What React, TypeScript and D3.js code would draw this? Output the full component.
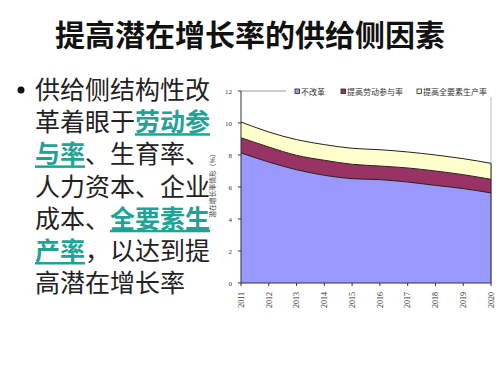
import React from "react";
import * as d3 from "d3";

const years = [2011, 2012, 2013, 2014, 2015, 2016, 2017, 2018, 2019, 2020];
const noReform = [8.13, 7.56, 7.08, 6.73, 6.52, 6.46, 6.31, 6.1, 5.9, 5.63];
const laborGain = [0.95, 0.94, 0.9, 0.94, 0.9, 0.85, 0.88, 0.9, 0.87, 0.85];
const tfpGain = [0.98, 0.94, 0.98, 0.98, 1.0, 1.02, 1.0, 1.0, 1.0, 1.0];
const seriesNames = ["不改革", "提高劳动参与率", "提高全要素生产率"];
const seriesColors = ["#9999FF", "#993366", "#FFFFCC"];
const yTicks = [0, 2, 4, 6, 8, 10, 12];

const title = "提高潜在增长率的供给侧因素";
const axisTitle = "潜在增长率情形（%）";
const bulletLines: { t: string; hl?: boolean }[][] = [
  [{ t: "供给侧结构性改" }],
  [{ t: "革着眼于" }, { t: "劳动参", hl: true }],
  [{ t: "与率", hl: true }, { t: "、生育率、" }],
  [{ t: "人力资本、企业" }],
  [{ t: "成本、" }, { t: "全要素生", hl: true }],
  [{ t: "产率", hl: true }, { t: "，以达到提" }],
  [{ t: "高潜在增长率" }],
];

export default function App() {
  const left = 241, right = 491, top = 91, bottom = 283;
  const x = d3.scaleLinear().domain([2011, 2020]).range([left, right]);
  const y = d3.scaleLinear().domain([0, 12]).range([bottom, top]);
  const table = years.map((yr, i) => ({ yr, a: noReform[i], b: laborGain[i], c: tfpGain[i] }));
  const stack = d3.stack<any>().keys(["a", "b", "c"])(table);
  const area = d3
    .area<any>()
    .x((d) => x(d.data.yr))
    .y0((d) => y(d[0]))
    .y1((d) => y(d[1]))
    .curve(d3.curveMonotoneX);
  const line = d3
    .line<any>()
    .x((d) => x(d.data.yr))
    .y((d) => y(d[1]))
    .curve(d3.curveMonotoneX);
  const cjk = "'Noto Sans CJK SC', sans-serif";
  const small = "'Liberation Serif', 'Noto Sans CJK SC', serif";
  const teal = "#1FA396";
  const legendX = [295, 341, 417];

  return (
    <svg width={500} height={375} style={{ position: "absolute", left: 0, top: 0, background: "#fff" }}>
      <rect width={500} height={375} fill="#fff" />
      <text x={250} y={46} textAnchor="middle" fontFamily={cjk} fontSize={30} fontWeight="bold" fill="#111">
        {title}
      </text>
      <circle cx={21} cy={90} r={3.5} fill="#111" />
      {bulletLines.map((ln, i) => (
        <text key={i} x={35} y={99 + i * 32.2} fontFamily={cjk} fontSize={25} fill="#222">
          {ln.map((p, j) =>
            p.hl ? (
              <tspan key={j} fill={teal} fontWeight="bold" style={{ textDecoration: "underline" }}>
                {p.t}
              </tspan>
            ) : (
              <tspan key={j}>{p.t}</tspan>
            )
          )}
        </text>
      ))}
      {/* plot border */}
      <line x1={left} x2={right} y1={top} y2={top} stroke="#999" strokeWidth={1} />
      <line x1={right} x2={right} y1={top} y2={bottom} stroke="#bbb" strokeWidth={1} />
      {stack.map((s, i) => (
        <path key={i} d={area(s) || ""} fill={seriesColors[i]} />
      ))}
      {stack.map((s, i) => (
        <path key={"l" + i} d={line(s) || ""} fill="none" stroke="#222" strokeWidth={1} />
      ))}
      <line x1={right} x2={right} y1={y(0)} y2={y(noReform[9] + laborGain[9] + tfpGain[9])} stroke="#222" strokeWidth={1} />
      {/* axes */}
      <line x1={left} x2={left} y1={top} y2={bottom} stroke="#333" strokeWidth={1} />
      <line x1={left} x2={right} y1={bottom} y2={bottom} stroke="#333" strokeWidth={1} />
      {yTicks.map((t) => (
        <g key={t}>
          <line x1={left - 3} x2={left} y1={y(t)} y2={y(t)} stroke="#333" />
          <text x={left - 9} y={y(t) + 2.5} textAnchor="end" fontFamily={small} fontSize={7} fill="#333">
            {t}
          </text>
        </g>
      ))}
      {years.map((yr) => (
        <g key={yr}>
          <line x1={x(yr)} x2={x(yr)} y1={bottom} y2={bottom + 3} stroke="#333" />
          <text
            transform={`translate(${x(yr) + 2.8},${bottom + 9}) rotate(-90)`}
            textAnchor="end"
            fontFamily={small}
            fontSize={8}
            fill="#333"
          >
            {yr}
          </text>
        </g>
      ))}
      <text
        transform={`translate(215,${(150 + 218) / 2}) rotate(-90)`}
        textAnchor="middle"
        fontFamily={cjk}
        fontSize={6.8}
        fill="#444"
      >
        {axisTitle}
      </text>
      {/* legend */}
      <rect x={286} y={85} width={208} height={12} fill="#fff" />
      {seriesNames.map((n, i) => (
        <g key={n}>
          <rect x={legendX[i]} y={89} width={4.5} height={4.5} fill={seriesColors[i]} stroke="#222" strokeWidth={0.8} />
          <text x={legendX[i] + 6} y={94.5} fontFamily={cjk} fontSize={8} fill="#333">
            {n}
          </text>
        </g>
      ))}
    </svg>
  );
}
